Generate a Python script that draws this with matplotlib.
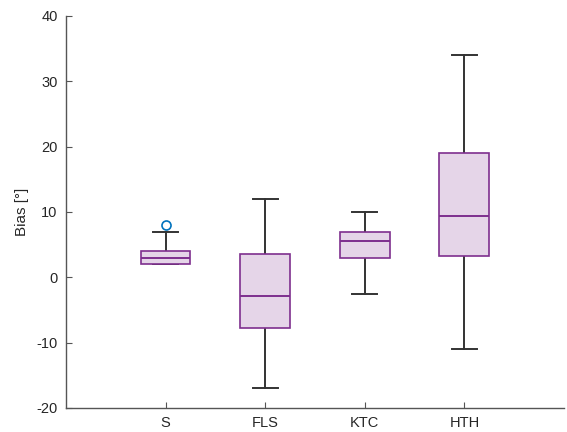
import matplotlib.pyplot as plt

labels = ["S", "FLS", "KTC", "HTH"]
q1 = [2.0, -7.8, 2.9, 3.3]
med = [3.0, -2.9, 5.6, 9.4]
q3 = [4.0, 3.6, 7.0, 19.0]
whislo = [2.0, -17.0, -2.6, -11.0]
whishi = [7.0, 12.0, 10.0, 34.0]
fliers = [[8.0], [], [], []]

purple = "#7E2F8E"
gray = "#333333"

plt.rcParams["font.family"] = ["Liberation Sans", "DejaVu Sans"]
plt.rcParams["axes.unicode_minus"] = False

fig = plt.figure(figsize=(5.67, 4.32), dpi=100)
ax = fig.add_axes([0.1164, 0.0556, 0.8783, 0.9074])

stats = []
for i in range(len(labels)):
    stats.append({"label": labels[i], "q1": q1[i], "med": med[i], "q3": q3[i],
                  "whislo": whislo[i], "whishi": whishi[i], "fliers": fliers[i]})

bp = ax.bxp(stats, positions=range(1, len(labels) + 1), widths=0.5,
            patch_artist=True, manage_ticks=False,
            boxprops=dict(facecolor="#E5D5E8", edgecolor=purple, linewidth=1.2, zorder=3),
            medianprops=dict(color=purple, linewidth=1.4, zorder=4),
            whiskerprops=dict(color=gray, linewidth=1.4, zorder=2),
            capprops=dict(color=gray, linewidth=1.4, zorder=2),
            flierprops=dict(marker="o", markerfacecolor="none", markeredgecolor="#0072BD",
                            markersize=6.5, markeredgewidth=1.2))
# caps are half the box width
for cap in bp["caps"]:
    x = cap.get_xdata()
    c = (x[0] + x[1]) / 2
    cap.set_xdata([c - 0.125, c + 0.125])

ax.set_xlim(0, 5)
ax.set_ylim(-20, 40)
ax.set_yticks(range(-20, 41, 10))
ax.set_xticks(range(1, len(labels) + 1))
ax.set_xticklabels(labels)
ax.set_ylabel("Bias [°]", fontsize=11, color="#262626", labelpad=5)

ax.spines["top"].set_visible(False)
ax.spines["right"].set_visible(False)
for s in ["left", "bottom"]:
    ax.spines[s].set_color("#555555")
    ax.spines[s].set_linewidth(1.0)
ax.tick_params(direction="in", length=4, width=0.8, color="#555555",
               labelsize=10.5, labelcolor="#262626", pad=6)

fig.savefig("out.png", dpi=100)
